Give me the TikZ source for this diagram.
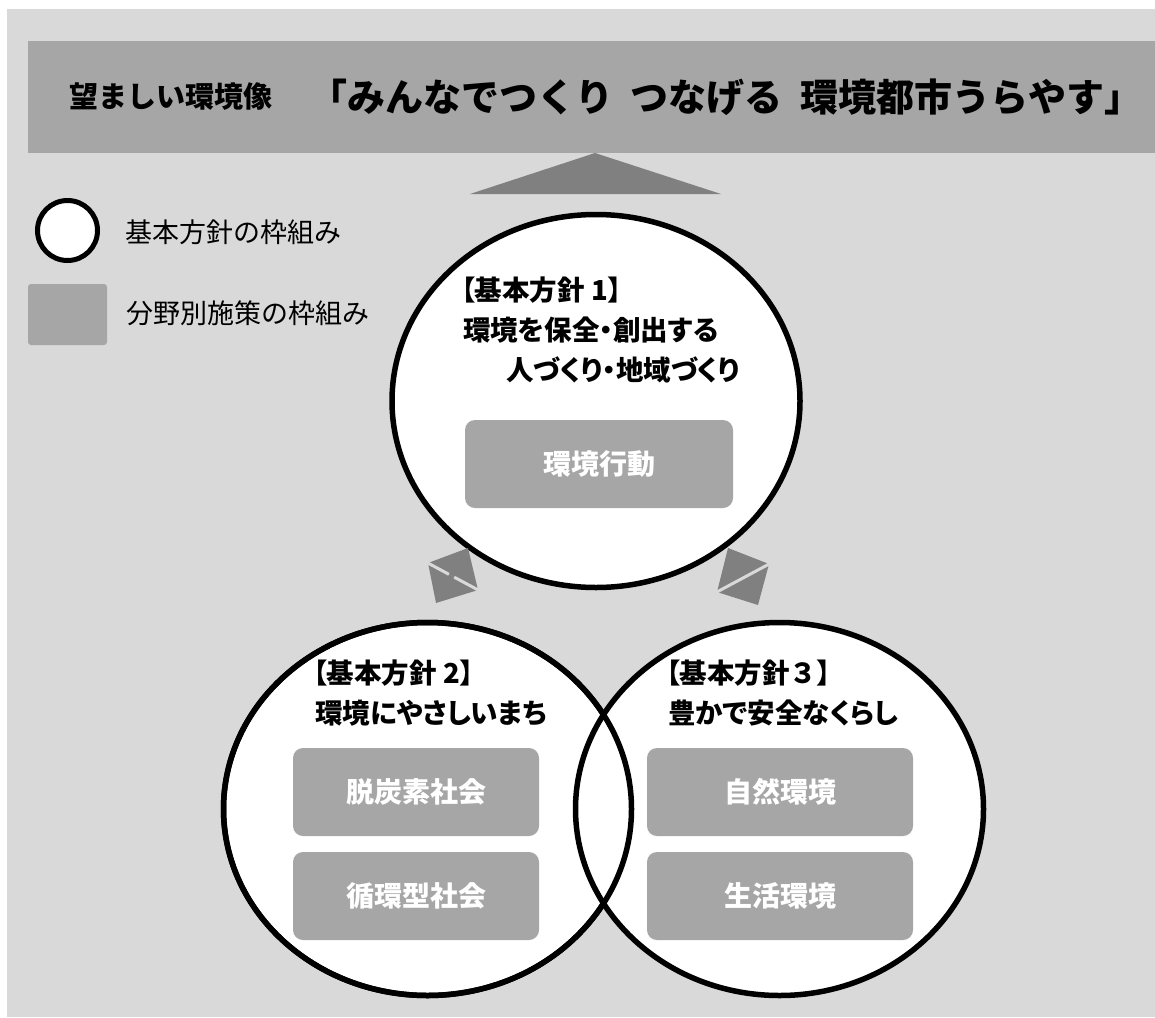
\documentclass[tikz,border=0pt]{standalone}
\usepackage{fontspec}
\usetikzlibrary{shapes.geometric}
\newfontfamily\jp{Noto Sans CJK JP}
\newfontfamily\jpp[RawFeature=+palt]{Noto Sans CJK JP}
\definecolor{bggray}{HTML}{D9D9D9}
\definecolor{boxgray}{HTML}{A6A6A6}
\definecolor{arrgray}{HTML}{808080}
\tikzset{
  bigcircle/.style={ellipse, draw=black, line width=5.5pt, fill=white, minimum width=408pt, minimum height=373pt, inner sep=0pt},
  ring/.style={ellipse, draw=black, line width=5.5pt, minimum width=408pt, minimum height=373pt, inner sep=0pt},
  fieldbox/.style={fill=boxgray, rounded corners=10pt, minimum height=88pt, inner sep=0pt, text=white, font=\jp\bfseries\fontsize{28pt}{32pt}\selectfont},
  head/.style={anchor=west, inner sep=0pt, font=\jpp\bfseries\fontsize{27.5pt}{32pt}\selectfont},
  legendtext/.style={anchor=west, inner sep=0pt, font=\jp\fontsize{27pt}{30pt}\selectfont}
}
\begin{document}
\begin{tikzpicture}[x=1pt,y=-1pt]
\useasboundingbox (0,0) rectangle (1155,1017);
\fill[white] (0,0) rectangle (1155,1017);
\fill[bggray] (7,9) rectangle (1155,1017);
% banner
\fill[boxgray] (28,41) rectangle (1155,153);
\node[anchor=west, inner sep=0pt, font=\jp\bfseries\fontsize{29pt}{32pt}\selectfont] (t1) at (69,97) {望ましい環境像};
\node[inner sep=0pt, font=\jp\bfseries\fontsize{38pt}{42pt}\selectfont] (t2) at (726,97) {「みんなでつくり\hspace{18pt}つなげる\hspace{18pt}環境都市うらやす」};
% upward triangle
\coordinate (tA) at (595,153);
\fill[arrgray] (470,194) -- (tA) -- (721,194) -- cycle;
% legend
\node[circle, draw=black, line width=5pt, fill=white, minimum size=60pt, inner sep=0pt] (lc) at (67.5,230.5) {};
\node[fill=boxgray, rounded corners=3pt, minimum width=79pt, minimum height=61pt, inner sep=0pt] (ls) at (67.5,314.5) {};
\node[legendtext] (l1) at (125,232) {基本方針の枠組み};
\node[legendtext] (l2) at (126,313) {分野別施策の枠組み};
% circles
\node[bigcircle] (c1) at (596,401) {};
\node[bigcircle] (c2) at (427.5,809) {};
\node[bigcircle] (c3) at (779.5,809) {};
\node[ring] at (c2) {};
% double arrows
\fill[arrgray] (428,563) -- (468,548) -- (478,590) -- cycle;
\fill[arrgray] (428,563) -- (478,590) -- (436,603) -- cycle;
\draw[bggray, line width=3pt, dash pattern=on 26pt off 6pt on 40pt] (426,562) -- (480,591);
\fill[arrgray] (728,548) -- (769,564) -- (717,592) -- cycle;
\fill[arrgray] (769,564) -- (758,605) -- (717,592) -- cycle;
\draw[bggray, line width=3pt] (771,563) -- (715,593);
% circle texts
\node[head] (h1a) at (461,290) {【基本方針 1】};
\node[head] (h1b) at (463,330) {環境を保全・創出する};
\node[head] (h1c) at (506,370) {人づくり・地域づくり};
\node[head] (h2a) at (313,673) {【基本方針 2】};
\node[head] (h2b) at (315,713) {環境にやさしいまち};
\node[head] (h3a) at (666,673) {【基本方針{\jp ３}】};
\node[head] (h3b) at (668,713) {豊かで安全なくらし};
% field boxes
\node[fieldbox, minimum width=268pt] (b1) at (599,464) {環境行動};
\node[fieldbox, minimum width=246pt] (b2) at (416,792) {脱炭素社会};
\node[fieldbox, minimum width=246pt] (b3) at (416,896) {循環型社会};
\node[fieldbox, minimum width=266pt] (b4) at (780,792) {自然環境};
\node[fieldbox, minimum width=266pt] (b5) at (780,896) {生活環境};
\end{tikzpicture}
\end{document}
